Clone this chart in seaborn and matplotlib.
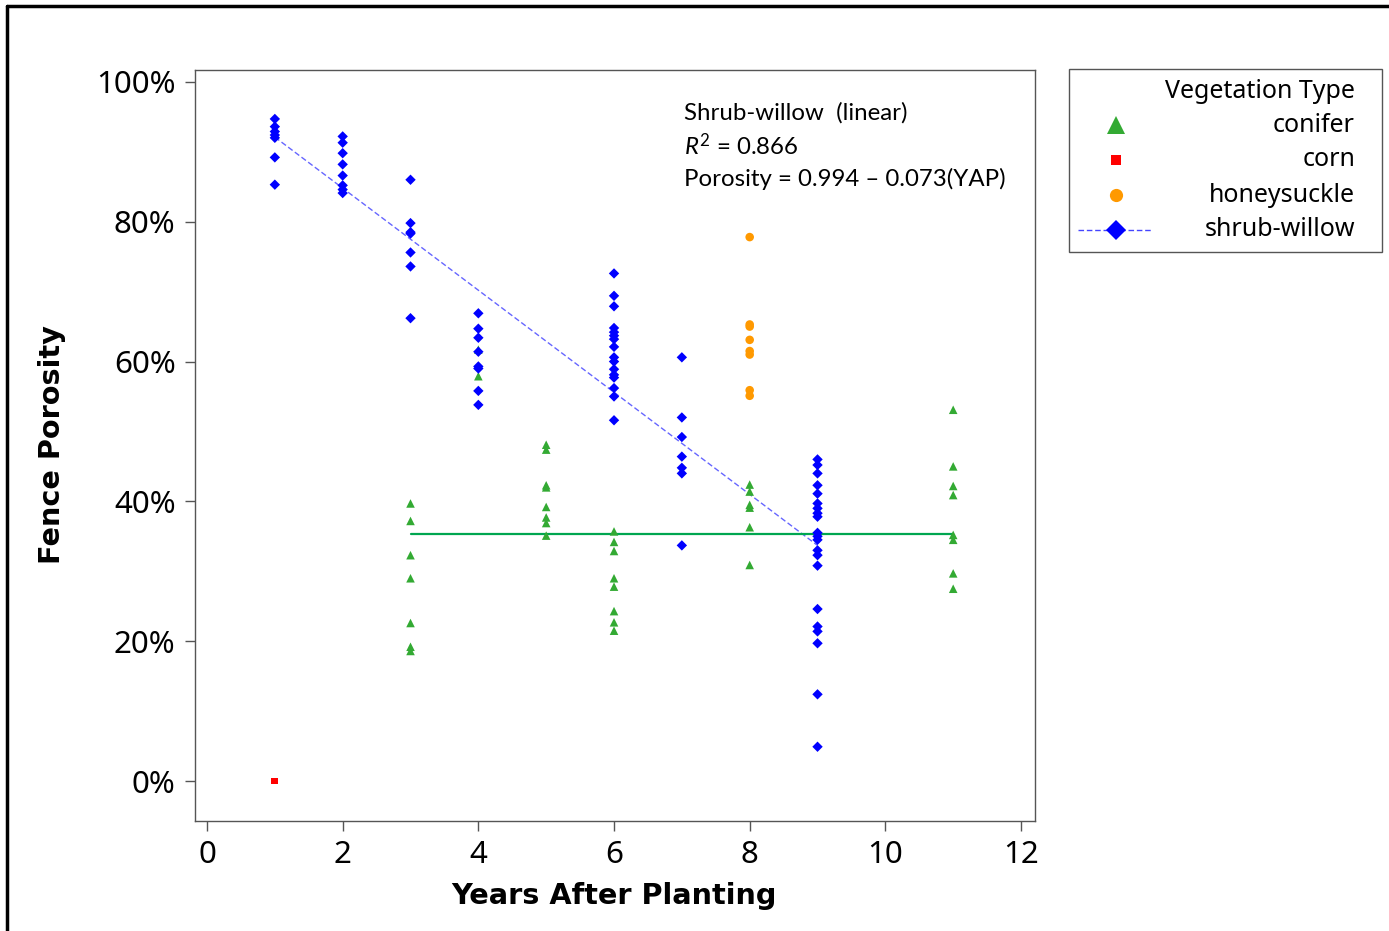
import numpy as np
import pandas as pd
import matplotlib
matplotlib.use("Agg")
import matplotlib.pyplot as plt
from matplotlib.lines import Line2D
from matplotlib.patches import Rectangle
from matplotlib.ticker import PercentFormatter
import seaborn as sns

# ---------------- data (fence porosity as fraction) ----------------
SHRUB_YEARS = [1, 2, 3, 4, 6, 7, 9]
SHRUB_VALUES = [
    [0.947, 0.936, 0.929, 0.924, 0.920, 0.892, 0.853],
    [0.922, 0.913, 0.898, 0.882, 0.866, 0.852, 0.846, 0.841],
    [0.860, 0.798, 0.785, 0.783, 0.756, 0.736, 0.662],
    [0.669, 0.647, 0.634, 0.614, 0.593, 0.590, 0.558, 0.538],
    [0.726, 0.694, 0.679, 0.648, 0.642, 0.637, 0.632, 0.621, 0.606,
     0.600, 0.589, 0.581, 0.577, 0.562, 0.550, 0.516],
    [0.606, 0.520, 0.492, 0.464, 0.448, 0.440, 0.337],
    [0.460, 0.452, 0.440, 0.423, 0.411, 0.397, 0.390, 0.383, 0.378,
     0.355, 0.350, 0.345, 0.330, 0.323, 0.308, 0.246, 0.221, 0.214,
     0.197, 0.124, 0.049],
]
CONIFER_YEARS = [3, 4, 5, 6, 8, 11]
CONIFER_VALUES = [
    [0.397, 0.372, 0.323, 0.290, 0.226, 0.192, 0.186],
    [0.617, 0.579],
    [0.481, 0.474, 0.423, 0.420, 0.392, 0.377, 0.369, 0.351],
    [0.357, 0.342, 0.329, 0.290, 0.278, 0.243, 0.227, 0.215],
    [0.424, 0.414, 0.395, 0.391, 0.363, 0.309],
    [0.531, 0.450, 0.422, 0.409, 0.352, 0.345, 0.297, 0.275],
]
HONEY_YEARS = [8]
HONEY_VALUES = [[0.778, 0.653, 0.650, 0.631, 0.615, 0.610, 0.559, 0.551]]
CORN_YEARS = [1]
CORN_VALUES = [[0.0]]

TYPES = ["conifer", "corn", "honeysuckle", "shrub-willow"]

# fit lines
SHRUB_INTERCEPT = 0.994
SHRUB_SLOPE = -0.073
CONIFER_LEVEL = 0.353

X_TICKS = [0, 2, 4, 6, 8, 10, 12]
Y_TICKS = [0.0, 0.2, 0.4, 0.6, 0.8, 1.0]


def expand(years, values, name):
    rows = []
    for yr, vals in zip(years, values):
        for v in vals:
            rows.append((yr, v, name))
    return rows


rows = (expand(CONIFER_YEARS, CONIFER_VALUES, "conifer")
        + expand(CORN_YEARS, CORN_VALUES, "corn")
        + expand(HONEY_YEARS, HONEY_VALUES, "honeysuckle")
        + expand(SHRUB_YEARS, SHRUB_VALUES, "shrub-willow"))
df = pd.DataFrame(rows, columns=["YAP", "Porosity", "Type"])

# ---------------- styling ----------------
sns.set_theme(style="white")
plt.rcParams["font.family"] = ["Noto Sans", "DejaVu Sans"]
plt.rcParams["mathtext.fontset"] = "custom"
plt.rcParams["mathtext.rm"] = "Lato"
plt.rcParams["mathtext.it"] = "Lato:italic"

COLORS = {"conifer": "#33AA33", "corn": "#FF0000",
          "honeysuckle": "#FF9900", "shrub-willow": "#0000FF"}
MARKERS = {"conifer": "^", "corn": "s", "honeysuckle": "o", "shrub-willow": "D"}
SIZES = {"conifer": 38, "corn": 24, "honeysuckle": 38, "shrub-willow": 28}

W, H = 1389, 931
fig = plt.figure(figsize=(W / 100, H / 100), dpi=100)
fig.patch.set_facecolor("white")


def fx(px):
    return px / W


def fy(py):
    return 1 - py / H


ax = fig.add_axes([fx(195), fy(821), fx(1035) - fx(195), fy(70) - fy(821)])

for t in TYPES:
    sub = df[df["Type"] == t]
    sns.scatterplot(data=sub, x="YAP", y="Porosity", ax=ax,
                    color=COLORS[t], marker=MARKERS[t], s=SIZES[t],
                    edgecolor="none", linewidth=0, legend=False, zorder=3)

# fit lines
sx = np.array([min(SHRUB_YEARS), max(SHRUB_YEARS)], dtype=float)
ax.plot(sx, SHRUB_INTERCEPT + SHRUB_SLOPE * sx, color="#6666FF",
        lw=1.0, ls=(0, (4, 2)), zorder=2)
cx = np.array([min(CONIFER_YEARS), max(CONIFER_YEARS)], dtype=float)
ax.plot(cx, [CONIFER_LEVEL, CONIFER_LEVEL], color="#00A650", lw=1.6, zorder=2)

ax.set_xlim(-0.177, 12.206)
ax.set_ylim(-0.0572, 1.017)
ax.set_xticks(X_TICKS)
ax.set_yticks(Y_TICKS)
ax.yaxis.set_major_formatter(PercentFormatter(1.0, decimals=0))
ax.tick_params(axis="both", which="major", direction="out", length=7,
               width=1.0, color="#555555", labelsize=22.5, labelcolor="black",
               left=True, bottom=True)
ax.tick_params(axis="y", pad=7)
ax.tick_params(axis="x", pad=7)
for sp in ax.spines.values():
    sp.set_color("#555555")
    sp.set_linewidth(1.0)

ax.set_xlabel("Years After Planting", fontsize=20.7, fontweight="bold",
              family=["DejaVu Sans"], va="center", color="black")
ax.set_ylabel("Fence Porosity", fontsize=20.7, fontweight="bold",
              family=["DejaVu Sans"], va="center", ha="center", color="black")
ax.xaxis.set_label_coords((614 - 195) / 840, (821 - 896) / 751)
ax.yaxis.set_label_coords((52 - 195) / 840, (821 - 445) / 751)

# annotation
ann_font = dict(fontsize=17.3, family=["Lato", "DejaVu Sans"], color="black",
                ha="left", va="center", transform=fig.transFigure)
fig.text(fx(684), fy(113), "Shrub-willow  (linear)", **ann_font)
fig.text(fx(684), fy(146), r"$\mathit{R}^{2}$ = 0.866", **ann_font)
fig.text(fx(684), fy(179), "Porosity = 0.994 \u2013 0.073(YAP)", **ann_font)

# legend (manual)
fig.patches.append(Rectangle((fx(1069), fy(252)), fx(1382) - fx(1069),
                             fy(69) - fy(252), transform=fig.transFigure,
                             facecolor="white", edgecolor="#555555", lw=1.0))
leg_font = dict(fontsize=18, color="black", ha="right", va="center",
                transform=fig.transFigure)
fig.text(fx(1355), fy(91), "Vegetation Type", **leg_font)
leg_rows = [("conifer", 125, 12.5), ("corn", 160, 7.5),
            ("honeysuckle", 195, 9.5), ("shrub-willow", 230, 10)]
for name, py, ms in leg_rows:
    fig.text(fx(1355), fy(py), name, **leg_font)
    if name == "shrub-willow":
        fig.lines.append(Line2D([fx(1078), fx(1152)], [fy(py), fy(py)],
                                transform=fig.transFigure, color="#4444FF",
                                lw=1.0, ls=(0, (4, 2))))
    fig.lines.append(Line2D([fx(1116)], [fy(py)], transform=fig.transFigure,
                            marker=MARKERS[name], color=COLORS[name],
                            markersize=ms, markeredgewidth=0, ls="none"))

# figure frame (left & top edges visible)
fig.lines.append(Line2D([fx(7), fx(7)], [fy(6), 0], transform=fig.transFigure,
                        color="black", lw=2.5))
fig.lines.append(Line2D([fx(7), 1], [fy(6), fy(6)], transform=fig.transFigure,
                        color="black", lw=2.5))

fig.savefig("out.png", dpi=100, facecolor="white")
